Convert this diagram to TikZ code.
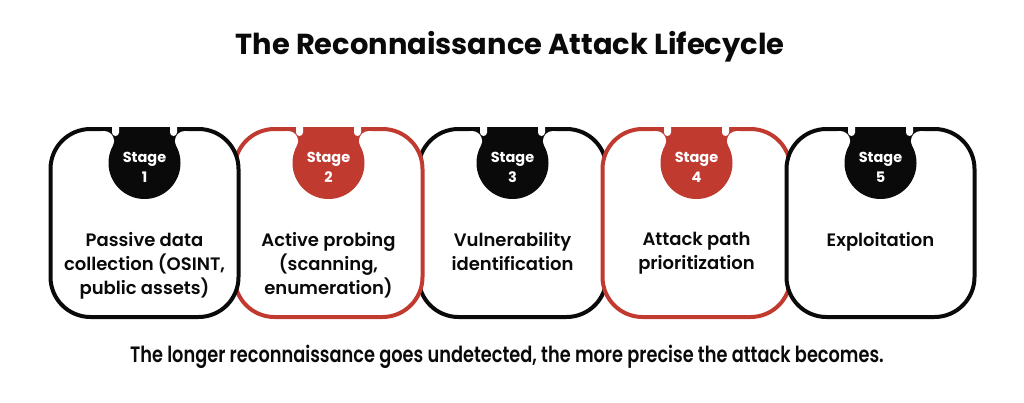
\documentclass[tikz,border=0pt]{standalone}
\usepackage{fontspec}
\setmainfont{Poppins}
\newfontfamily\semifont{Poppins SemiBold}
\newfontfamily\boldfont{Poppins Bold}
\newfontfamily\condfont{Poppins SemiBold}[FakeStretch=0.8]
\usetikzlibrary{positioning}
\definecolor{stagered}{HTML}{C13A30}
\definecolor{ink}{HTML}{0A0A0A}
% neck where a badge meets the top edge of its box
\newcommand{\badgeneck}[2]{%
  \begin{scope}[shift={(#1.north)}]
    \fill[#2] (-40.4,2) -- (40.4,2) -- (40.4,14) -- (31.62,18.78) -- (0,36)
      -- (-31.62,18.78) -- (-40.4,14) -- cycle;
    \fill[white] (-40.4,14) circle[radius=10pt] (40.4,14) circle[radius=10pt];
    \fill[white] (-29,5.5) circle[radius=3.5pt] (29,5.5) circle[radius=3.5pt];
    \fill[white] (-32.5,-1) rectangle (-25.5,5.5) (25.5,-1) rectangle (32.5,5.5);
  \end{scope}}

\begin{document}
\begin{tikzpicture}[
  x=1pt, y=-1pt,
  stagebox/.style={draw=#1,fill=white,line width=4pt,rounded corners=40pt,minimum width=188pt,minimum height=188pt},
  badge/.style={circle,fill=#1,minimum size=72pt,inner sep=0pt,outer sep=0pt,anchor=north},
  tag/.style={text=white,align=center,yshift=-4pt,font=\boldfont\fontsize{14.5}{20}\selectfont},
  stagetext/.style={align=center,inner sep=0pt,text=ink,font=\semifont\fontsize{18}{24}\selectfont},
]
  \useasboundingbox (0,0) rectangle (1024,402);

  % Title
  \node[font=\boldfont\fontsize{28.9}{34}\selectfont,text=ink] (title) at (510,47) {The Reconnaissance Attack Lifecycle};

  % Stage boxes (middle one first, red ones over it, outer black ones on top)
  \node[stagebox=ink] (s3) at (512.5,223) {};
  \node[stagebox=stagered] (s2) at (328.5,223) {};
  \node[stagebox=stagered] (s4) at (696.5,223) {};
  \node[stagebox=ink] (s1) at (144.5,223) {};
  \node[stagebox=ink] (s5) at (880.5,223) {};

  % Badges
  \badgeneck{s1}{ink}
  \badgeneck{s2}{stagered}
  \badgeneck{s3}{ink}
  \badgeneck{s4}{stagered}
  \badgeneck{s5}{ink}
  \node[badge=ink,label={[tag]center:Stage\\1}] (c1) at (s1.north) {};
  \node[badge=stagered,label={[tag]center:Stage\\2}] (c2) at (s2.north) {};
  \node[badge=ink,label={[tag]center:Stage\\3}] (c3) at (s3.north) {};
  \node[badge=stagered,label={[tag]center:Stage\\4}] (c4) at (s4.north) {};
  \node[badge=ink,label={[tag]center:Stage\\5}] (c5) at (s5.north) {};

  % Stage texts
  \node[stagetext,below=33pt of c1] (t1) {Passive data\\collection (OSINT,\\public assets)};
  \node[stagetext,below=33pt of c2] (t2) {Active probing\\(scanning,\\enumeration)};
  \node[stagetext,below=33pt of c3] (t3) {Vulnerability\\identification};
  \node[stagetext,below=33pt of c4] (t4) {Attack path\\prioritization};
  \node[stagetext,below=33pt of c5] (t5) {Exploitation};

  % Footnote
  \node[font=\condfont\fontsize{22.2}{26}\selectfont,text=ink] (note) at (507,357) {The longer reconnaissance goes undetected, the more precise the attack becomes.};
\end{tikzpicture}
\end{document}
